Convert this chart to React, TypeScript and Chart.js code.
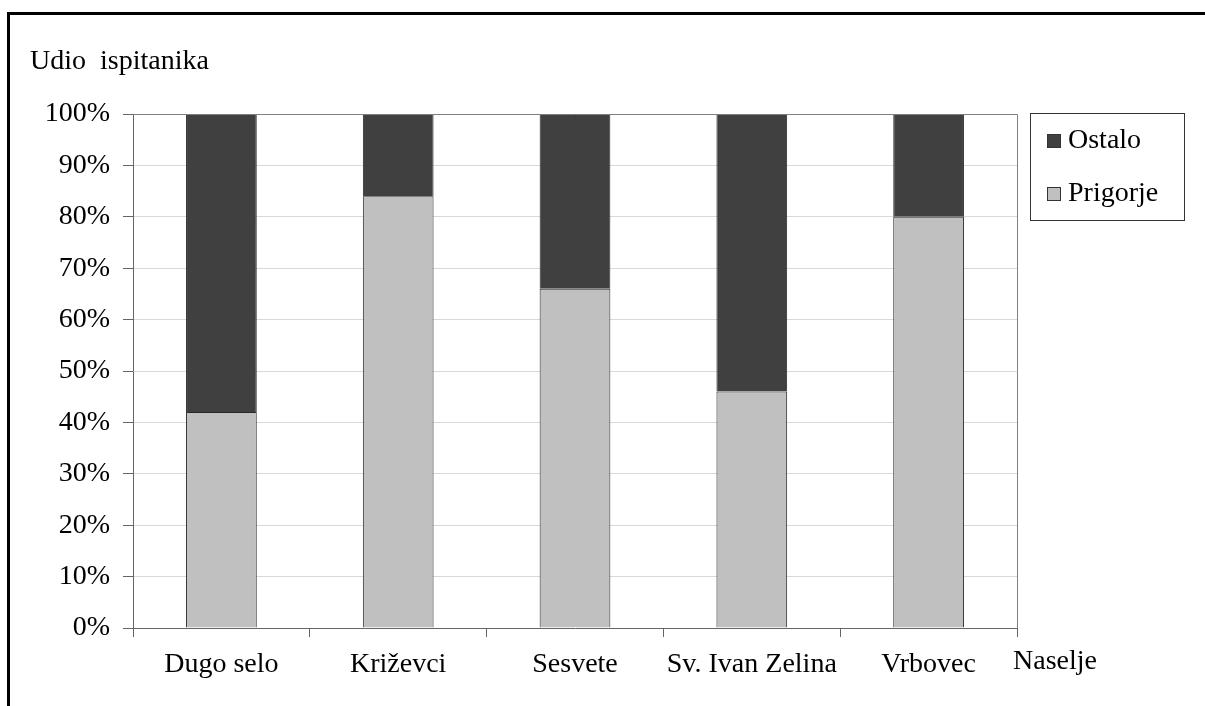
import React, { useEffect, useRef } from 'react';
import { Chart, registerables } from 'chart.js';

Chart.register(...registerables);

const categories = ['Dugo selo', 'Križevci', 'Sesvete', 'Sv. Ivan Zelina', 'Vrbovec'];
const prigorjeValues = [42, 84, 66, 46, 80];
const ostaloValues = [58, 16, 34, 54, 20];
const seriesNames = ['Ostalo', 'Prigorje'];
const seriesColors = ['#404040', '#c0c0c0'];
const yAxisTitle = 'Udio  ispitanika';
const xAxisTitle = 'Naselje';

const FONT = "'Liberation Serif', 'Times New Roman', serif";

const decorPlugin = {
  id: 'decor',
  afterDraw(chart: any) {
    const ctx = chart.ctx as CanvasRenderingContext2D;
    const a = chart.chartArea;
    ctx.save();
    // plot area border (top and right)
    ctx.strokeStyle = '#808080';
    ctx.lineWidth = 1;
    ctx.beginPath();
    ctx.moveTo(a.left, a.top + 0.5);
    ctx.lineTo(a.right + 0.5, a.top + 0.5);
    ctx.lineTo(a.right + 0.5, a.bottom);
    ctx.stroke();

    // titles
    ctx.fillStyle = '#000';
    ctx.font = `28px ${FONT}`;
    ctx.textBaseline = 'alphabetic';
    ctx.textAlign = 'left';
    ctx.fillText(yAxisTitle, 30, 69);
    ctx.fillText(xAxisTitle, a.right - 4, 669);

    // legend
    const lx = 1030.5, ly = 113.5, lw = 154, lh = 107;
    ctx.strokeStyle = '#333';
    ctx.lineWidth = 1;
    ctx.strokeRect(lx, ly, lw, lh);
    const rows = [148, 201];
    ctx.font = `28px ${FONT}`;
    seriesNames.forEach((name, i) => {
      const base = rows[i];
      ctx.fillStyle = seriesColors[i];
      ctx.fillRect(1047, base - 14, 13, 13);
      ctx.strokeStyle = '#333';
      ctx.strokeRect(1047.5, base - 13.5, 13, 13);
      ctx.fillStyle = '#000';
      ctx.fillText(name, 1068, base);
    });
    ctx.restore();
  },
};

export default function App() {
  const ref = useRef<HTMLCanvasElement>(null);
  useEffect(() => {
    if (!ref.current) return;
    const chart = new Chart(ref.current, {
      type: 'bar',
      data: {
        labels: categories,
        datasets: [
          {
            label: seriesNames[1],
            data: prigorjeValues,
            backgroundColor: seriesColors[1],
            borderColor: '#2a2a2a',
            borderWidth: 1,
            categoryPercentage: 1,
            barPercentage: 0.4,
          },
          {
            label: seriesNames[0],
            data: ostaloValues,
            backgroundColor: seriesColors[0],
            borderColor: '#2a2a2a',
            borderWidth: 1,
            categoryPercentage: 1,
            barPercentage: 0.4,
          },
        ],
      },
      options: {
        animation: false,
        responsive: false,
        maintainAspectRatio: false,
        devicePixelRatio: 1,
        layout: { padding: { left: 0, right: 188, top: 114, bottom: 0 } },
        plugins: {
          legend: { display: false },
          tooltip: { enabled: false },
          title: { display: false },
        },
        scales: {
          x: {
            stacked: true,
            afterFit: (s: any) => { s.height = 78; },
            grid: {
              display: true,
              drawOnChartArea: false,
              drawTicks: true,
              tickLength: 9,
              tickColor: '#666',
              offset: true,
            },
            border: { display: true, color: '#666', width: 1 },
            ticks: {
              color: '#000',
              font: { family: FONT, size: 28 },
              padding: 11,
              maxRotation: 0,
              autoSkip: false,
            },
          },
          y: {
            stacked: true,
            min: 0,
            max: 100,
            afterFit: (s: any) => { s.width = 133; },
            grid: {
              color: '#d9d9d9',
              lineWidth: 1,
              drawTicks: true,
              tickLength: 10,
              tickColor: '#666',
            },
            border: { display: true, color: '#666', width: 1 },
            ticks: {
              stepSize: 10,
              color: '#000',
              font: { family: FONT, size: 28 },
              padding: 13,
              callback: (v: any) => `${v}%`,
            },
          },
        },
      },
      plugins: [decorPlugin],
    });
    return () => chart.destroy();
  }, []);

  return (
    <div style={{ position: 'absolute', left: 0, top: 0, width: 1205, height: 706, background: '#fff', overflow: 'hidden' }}>
      <div
        style={{
          position: 'absolute',
          left: 7,
          top: 12,
          width: 1400,
          height: 1000,
          borderTop: '3px solid #000',
          borderLeft: '3px solid #000',
        }}
      />
      <canvas ref={ref} width={1205} height={706} style={{ position: 'absolute', left: 0, top: 0, width: 1205, height: 706 }} />
    </div>
  );
}
